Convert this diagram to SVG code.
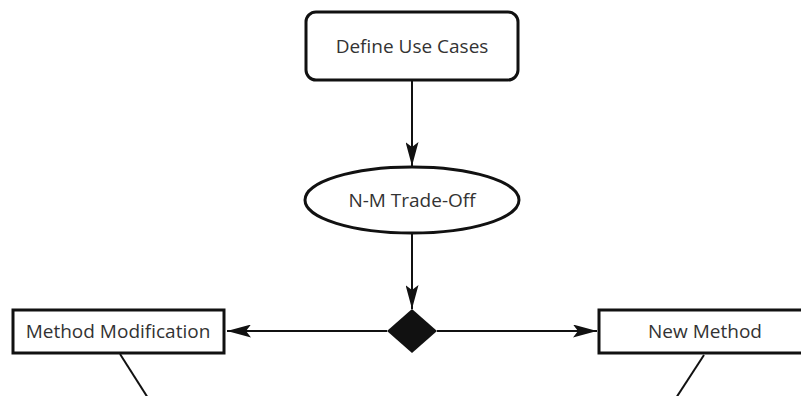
<svg xmlns="http://www.w3.org/2000/svg" width="801" height="396" viewBox="0 0 801 396">
<defs>
<style>
.node{fill:#fff;stroke:#111;stroke-width:3}
.lbl{font-family:"Open Sans","Liberation Sans",sans-serif;font-size:19px;fill:#333;text-anchor:middle;dominant-baseline:central}
.edge{stroke:#111;stroke-width:2;fill:none}
</style>
<marker id="ah" viewBox="0 0 24 13" refX="24" refY="6.5" markerWidth="24" markerHeight="13" markerUnits="userSpaceOnUse" orient="auto">
<path d="M0,0 L24,6.5 L0,13 L5,6.5 Z" fill="#111"/>
</marker>
</defs>
<rect width="801" height="396" fill="#fff"/>
<g id="connectors">
<line class="edge" x1="412" y1="80" x2="412" y2="166" marker-end="url(#ah)"/>
<line class="edge" x1="412" y1="233" x2="412" y2="309" marker-end="url(#ah)"/>
<line class="edge" x1="387" y1="331" x2="227" y2="331" marker-end="url(#ah)"/>
<line class="edge" x1="437" y1="331" x2="597" y2="331" marker-end="url(#ah)"/>
<line class="edge" x1="120" y1="354" x2="148" y2="398"/>
<line class="edge" x1="704" y1="355" x2="676" y2="398"/>
</g>
<g id="define-use-cases">
<rect class="node" x="306" y="12" width="212" height="68" rx="10"/>
<text class="lbl" x="412" y="46">Define Use Cases</text>
</g>
<g id="nm-tradeoff">
<ellipse class="node" cx="412" cy="200" rx="107" ry="33"/>
<text class="lbl" x="412" y="200">N-M Trade-Off</text>
</g>
<g id="decision">
<polygon points="412,309 437,331 412,353 387,331" fill="#111"/>
</g>
<g id="method-modification">
<rect class="node" x="13" y="310" width="211" height="43" stroke-width="3.5"/>
<text class="lbl" x="118" y="331">Method Modification</text>
</g>
<g id="new-method">
<rect class="node" x="599" y="310" width="214" height="43" stroke-width="3.5"/>
<text class="lbl" x="705" y="331">New Method</text>
</g>
</svg>
